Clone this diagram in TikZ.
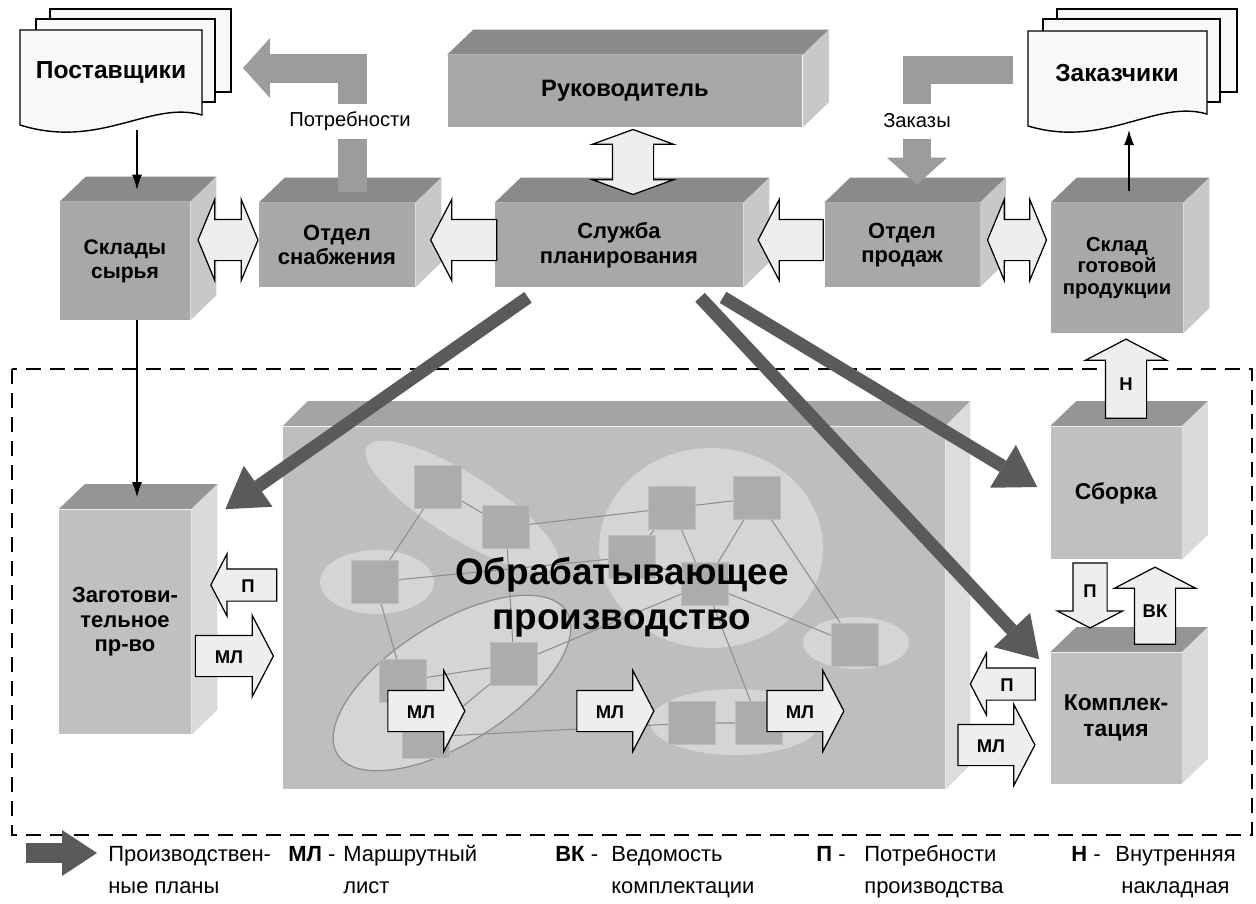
\documentclass[tikz,border=0pt]{standalone}
\usepackage{fontspec}
\setmainfont{Liberation Sans}
\usetikzlibrary{shapes.arrows,arrows.meta}

\definecolor{upfront}{HTML}{A8A8A8}
\definecolor{uptop}{HTML}{8A8A8A}
\definecolor{upside}{HTML}{C8C8C8}
\definecolor{lowfront}{HTML}{C0C0C0}
\definecolor{lowtop}{HTML}{959595}
\definecolor{lowside}{HTML}{DADADA}
\definecolor{obrfront}{HTML}{BEBEBE}
\definecolor{obrtop}{HTML}{A4A4A4}
\definecolor{obrside}{HTML}{DCDCDC}
\definecolor{ellfill}{HTML}{D5D5D5}
\definecolor{unitfill}{HTML}{ACACAC}
\definecolor{unitedge}{HTML}{BEBEBE}
\definecolor{linkgray}{HTML}{8E8E8E}
\definecolor{blkfill}{HTML}{EEEEEE}
\definecolor{plangray}{HTML}{5A5A5A}
\definecolor{flowgray}{HTML}{9C9C9C}
\definecolor{sheetfill}{HTML}{F8F8F8}

\begin{document}
\begin{tikzpicture}[x=0.02cm,y=-0.02cm]
  \tikzstyle{upbox}=[rectangle, fill=upfront, inner sep=0pt, align=center,
    font=\bfseries\fontsize{12.5}{14}\selectfont]
  \tikzstyle{lowbox}=[upbox, fill=lowfront]
  \tikzstyle{sheet}=[draw=black, fill=sheetfill, line width=0.8pt]
  \tikzstyle{unit}=[rectangle, fill=unitfill, draw=unitedge, line width=0.6pt,
    minimum width=0.94cm, minimum height=0.86cm, inner sep=0pt]
  \tikzstyle{link}=[draw=linkgray, line width=0.6pt]
  \tikzstyle{blk}=[single arrow, draw=black, fill=blkfill, line width=0.7pt,
    inner sep=0pt, single arrow tip angle=125,
    font=\bfseries\fontsize{10.5}{12}\selectfont]
  \tikzstyle{hwide}=[blk, text height=0.54cm, text depth=0.26cm,
    single arrow head extend=0.4cm]
  \tikzstyle{hnarrow}=[blk, text height=0.45cm, text depth=0.17cm,
    single arrow head extend=0.3cm]
  \tikzstyle{vwide}=[blk, text width=0.8cm, align=center,
    single arrow head extend=0.4cm]
  \tikzstyle{twoway}=[double arrow, draw=black, fill=blkfill, line width=0.7pt,
    inner sep=0pt, double arrow tip angle=135, double arrow head extend=0.4cm]
  \tikzstyle{plan arrow}=[draw=plangray, line width=0.26cm,
    -{Triangle[length=0.8cm, width=1.0cm, line width=0pt]}]
  \tikzstyle{flow arrow}=[draw=flowgray, line width=0.58cm,
    -{Triangle[length=0.54cm, width=1.2cm, line width=0pt]}]
  \tikzstyle{thin arrow}=[draw=black, line width=0.7pt,
    -{Latex[length=0.3cm, width=0.2cm]}]
  \tikzstyle{key}=[inner sep=0pt, align=left, anchor=north west,
    font=\fontsize{12.5}{18}\selectfont]

  \useasboundingbox[fill=white] (0,0) rectangle (1256,903);

  % production area
  \draw[dash pattern=on 0.3cm off 0.18cm, line width=1.1pt] (12,369) rectangle (1252,835);

  % suppliers and customers
  \filldraw[sheet] (50,9) rectangle (231,92);
  \filldraw[sheet] (36,19) rectangle (215,102);
  \filldraw[sheet] (20,30) -- (202,30) -- (202,115)
    .. controls (150,100) and (100,150) .. (20,125) -- cycle;
  \node[font=\bfseries\fontsize{14}{16}\selectfont] (post) at (111,72) {Поставщики};

  \filldraw[sheet] (1057,9) rectangle (1237,92);
  \filldraw[sheet] (1043,19) rectangle (1220,102);
  \filldraw[sheet] (1028,31) -- (1207,31) -- (1207,114)
    .. controls (1155,99) and (1105,149) .. (1028,126) -- cycle;
  \node[font=\bfseries\fontsize{14}{16}\selectfont] (zakaz) at (1117,73) {Заказчики};

  % boxes
  \node[upbox, minimum width=7.1cm, minimum height=1.44cm,
    font=\bfseries\fontsize{13.5}{16}\selectfont] (ruk) at (625,91) {Руководитель};
  \node[upbox, minimum width=2.6cm, minimum height=2.36cm,
    font=\bfseries\fontsize{12}{13.5}\selectfont] (sklad) at (125,261) {Склады\\сырья};
  \node[upbox, minimum width=3.12cm, minimum height=1.68cm] (snab) at (337,245) {Отдел\\снабжения};
  \node[upbox, minimum width=4.96cm, minimum height=1.68cm] (plan) at (619,245) {Служба\\планирования};
  \node[upbox, minimum width=3.1cm, minimum height=1.68cm] (prod) at (902,245) {Отдел\\продаж};
  \node[upbox, minimum width=2.64cm, minimum height=2.6cm,
    font=\bfseries\fontsize{11.5}{12.5}\selectfont] (gotov) at (1117,268) {Склад\\готовой\\продукции};
  \node[lowbox, minimum width=2.64cm, minimum height=4.5cm] (zagot) at (125,622) {Заготови-\\тельное\\пр-во};
  \node[lowbox, minimum width=2.62cm, minimum height=2.66cm,
    font=\bfseries\fontsize{13}{14}\selectfont] (sborka) at (1116,493) {Сборка};
  \node[lowbox, minimum width=2.62cm, minimum height=2.62cm,
    font=\bfseries\fontsize{13}{14.5}\selectfont] (kompl) at (1116,718) {Комплек-\\тация};
  \node[rectangle, fill=obrfront, minimum width=13.24cm, minimum height=7.26cm] (obr) at (614,608) {};

  \foreach \b in {ruk, sklad, snab, plan, prod, gotov}
  {
    \fill[uptop] (\b.north west) -- ++(26,-25) -- ([shift={(26,-25)}]\b.north east)
      -- (\b.north east) -- cycle;
    \fill[upside] (\b.north east) -- ++(26,-25) -- ([shift={(26,-25)}]\b.south east)
      -- (\b.south east) -- cycle;
  }
  \foreach \b in {zagot, sborka, kompl}
  {
    \fill[lowtop] (\b.north west) -- ++(26,-25) -- ([shift={(26,-25)}]\b.north east)
      -- (\b.north east) -- cycle;
    \fill[lowside] (\b.north east) -- ++(26,-25) -- ([shift={(26,-25)}]\b.south east)
      -- (\b.south east) -- cycle;
  }
  \fill[obrtop] (obr.north west) -- ++(25,-25) -- ([shift={(25,-25)}]obr.north east)
    -- (obr.north east) -- cycle;
  \fill[obrside] (obr.north east) -- ++(25,-25) -- ([shift={(25,-25)}]obr.south east)
    -- (obr.south east) -- cycle;

  % sections inside the shop floor
  \fill[ellfill, rotate around={-32:(462,506)}] (462,506) ellipse [x radius=2.24cm, y radius=0.64cm];
  \fill[ellfill] (377,582) ellipse [x radius=1.14cm, y radius=0.64cm];
  \fill[ellfill] (711,548) ellipse [x radius=2.24cm, y radius=2.0cm];
  \fill[ellfill] (856,643) ellipse [x radius=1.06cm, y radius=0.52cm];
  \fill[ellfill] (735,722) ellipse [x radius=1.7cm, y radius=0.66cm];
  \filldraw[ellfill, draw=linkgray, line width=0.7pt, rotate around={32:(452,683)}]
    (452,683) ellipse [x radius=2.7cm, y radius=1.2cm];

  \foreach \i/\x/\y in {1/438/487, 2/506/527, 3/375/582, 4/672/508, 5/757/498,
    6/632/557, 7/705/584, 8/855/645, 9/403/681, 10/514/664, 11/426/737,
    12/692/723, 13/759/723}
  {
    \node[unit] (m\i) at (\x,\y) {};
  }

  \draw[link]
    (m1) -- (m3)  (m1) -- (m2)  (m2) -- (m4)  (m4) -- (m5)
    (m4) -- (m6)  (m3) -- (m6)  (m6) -- (m7)  (m2) -- (m10)
    (m3) -- (m9)  (m9) -- (m10) (m11) -- (m10) (m10) -- (m7)
    (m4) -- (m7)  (m7) -- (m8)  (m5) -- (m7)  (m5) -- (m8)
    (m7) -- (m13) (m12) -- (m13) (m11) -- (m12);

  \node[align=center, font=\bfseries\fontsize{21}{25.5}\selectfont] (obrtxt) at (622,597)
    {Обрабатывающее\\производство};

  \foreach \i/\x in {1/421, 2/610, 3/800}
  {
    \node[hwide, minimum height=1.54cm] (ml\i) at (\x,711) {МЛ};
  }

  % requests and orders
  \coordinate (need-tip) at (243,68);
  \draw[flow arrow] ([shift={(15,-11)}]snab.north) |- (need-tip);
  \node[fill=white, minimum height=0.7cm, inner xsep=2pt,
    font=\fontsize{11.5}{13}\selectfont] (need) at (350,121) {Потребности};

  \coordinate (order-start) at (1013,70);
  \draw[flow arrow, line width=0.56cm] (order-start) -| ([shift={(15,-18)}]prod.north);
  \node[fill=white, minimum height=0.7cm, inner xsep=2pt,
    font=\fontsize{11.5}{13}\selectfont] (order) at (917,121) {Заказы};

  % documents between units
  \node[twoway, text height=0.4cm, text depth=0.4cm, minimum height=1.2cm] (sklad-snab) at (228,240) {};
  \node[twoway, text height=0.4cm, text depth=0.4cm, minimum height=1.18cm] (prod-gotov) at (1017,240) {};
  \node[twoway, text width=0.8cm, shape border rotate=90, minimum height=1.3cm,
    double arrow tip angle=140] (ruk-plan) at (633,162) {};
  \node[hwide, shape border rotate=180, minimum height=1.32cm] (plan-snab) at (469,240) {};
  \node[hwide, shape border rotate=180, minimum height=1.3cm] (prod-plan) at (796,240) {};

  \node[vwide, shape border rotate=90, minimum height=1.58cm] (sborka-gotov) at (1126,384) {Н};
  \node[vwide, text width=0.66cm, single arrow head extend=0.31cm, shape border rotate=270,
    minimum height=1.3cm] (sborka-kompl) at (1090,591) {П};
  \node[vwide, shape border rotate=90, minimum height=1.54cm] (kompl-sborka) at (1155,611) {ВК};
  \node[hnarrow, shape border rotate=180, minimum height=1.3cm] (kompl-need) at (1007,684) {П};
  \node[hwide, minimum height=1.54cm] (kompl-ml) at (991,745) {МЛ};
  \node[hnarrow, shape border rotate=180, minimum height=1.32cm] (zagot-need) at (248,585) {П};
  \node[hwide, minimum height=1.56cm] (zagot-ml) at (229,656) {МЛ};

  % production plans
  \draw[plan arrow] ([shift={(-91,10)}]plan.south) -- ([shift={(34,0)}]zagot.north east);
  \draw[plan arrow] ([shift={(104,10)}]plan.south) -- ([shift={(-13,-6)}]sborka.west);
  \draw[plan arrow] ([shift={(81,10)}]plan.south) -- ([shift={(-11,7)}]kompl.north west);

  % material flow
  \coordinate (post-out) at (137,130);
  \coordinate (sklad-top) at ([shift={(12,-12)}]sklad.north);
  \coordinate (zagot-top) at ([shift={(12,-12)}]zagot.north);
  \coordinate (gotov-top) at ([shift={(12,-12)}]gotov.north);
  \coordinate (zakaz-in) at (1129,130);
  \draw[thin arrow] (post-out) -- (sklad-top);
  \draw[thin arrow] (sklad.south -| sklad-top) -- (zagot-top);
  \draw[thin arrow] (gotov-top) -- (zakaz-in);

  % legend
  \coordinate (key-tail) at (26,853);
  \coordinate (key-tip) at (97,853);
  \draw[plan arrow, line width=0.4cm, -{Triangle[length=0.7cm, width=0.92cm, line width=0pt]}]
    (key-tail) -- (key-tip);
  \node[key] (key-plan) at (108,839) {\strut Производствен-\\ные планы};
  \node[key] (key-ml) at (288,839) {\strut\textbf{МЛ} -};
  \node[key] (key-ml-txt) at (343,839) {\strut Маршрутный\\лист};
  \node[key] (key-vk) at (555,839) {\strut\textbf{ВК} -};
  \node[key] (key-vk-txt) at (611,839) {\strut Ведомость\\комплектации};
  \node[key] (key-p) at (816,839) {\strut\textbf{П} -};
  \node[key] (key-p-txt) at (864,839) {\strut Потребности\\производства};
  \node[key] (key-n) at (1071,839) {\strut\textbf{Н} -};
  \node[key, align=center] (key-n-txt) at (1115,839) {\strut Внутренняя\\накладная};
\end{tikzpicture}
\end{document}
